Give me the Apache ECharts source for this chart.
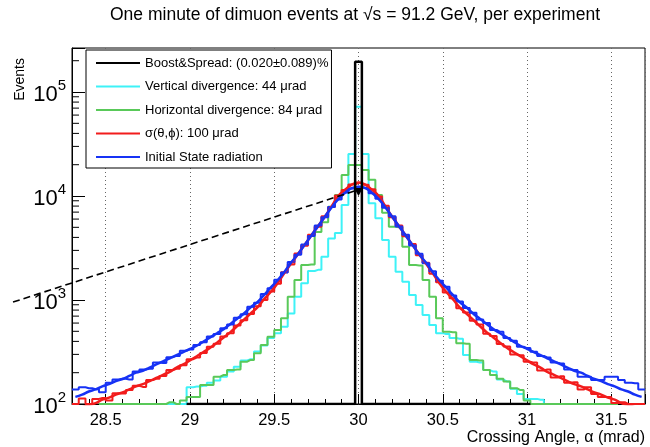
<!DOCTYPE html>
<html><head><meta charset="utf-8">
<script src="https://cdn.jsdelivr.net/npm/echarts@6/dist/echarts.min.js"></script>
<style>html,body{margin:0;padding:0;background:#fff}#c{width:650px;height:447px}</style>
</head><body><div id="c"></div>
<script>
const FONT = '"Liberation Sans", Arial, Helvetica, sans-serif';

// ---- axis / binning ----
const X_MIN = 28.3, X_MAX = 31.7;
const Y_MIN = 100, Y_MAX = 265000;
const binLow = 28.30, binWidth = 0.04;          // 85 bins, centred on 30.00
const xTickLabels = ['28.5', '29', '29.5', '30', '30.5', '31', '31.5'];
const yTickLabels = ['10^2', '10^3', '10^4', '10^5'];
const yMinorTicks = [200,300,400,500,600,700,800,900,
                     2000,3000,4000,5000,6000,7000,8000,9000,
                     20000,30000,40000,50000,60000,70000,80000,90000,200000];

// ---- legend names ----
const nameBoost = 'Boost&Spread: (0.020\u00b10.089)%';
const nameVert  = 'Vertical divergence: 44 \u03bcrad';
const nameHoriz = 'Horizontal divergence: 84 \u03bcrad';
const nameSigma = '\u03c3(\u03b8,\u03d5): 100 \u03bcrad';
const nameISR   = 'Initial State radiation';

// ---- histogram contents (events per bin), bins k = 0..84 ----
const boostCounts = [null,null,null,null,null,null,null,null,null,null,null,null,null,null,null,null,null,
  100,100,100,100,100,100,100,100,100,100,100,100,100,100,100,100,100,100,100,100,100,100,100,100,100,
  195000,
  100,100,100,100,100,100,100,100,100,100,100,100,100,100,100,100,100,100,100,100,100,100,100,100,100,
  null,null,null,null,null,null,null,null,null,null,null,null,null,null,null,null,null];

const vertCounts = [null,null,null,null,null,null,null,null,null,null,
  100,100,100,100,100,100,100,
  145,147,150,160,168,183,205,228,262,270,320,365,430,
  480,553,740,1077,1450,1900,1950,2600,3900,4400,8200,25300,
  72000,
  25300,8500,6100,3780,2600,1870,1500,1117,895,718,575,480,
  470,431,425,296,255,250,212,205,172,165,140,125,112,112,110,
  100,100,100,100,100,
  null,null,null,null,null,null,null,null,null,null];

const horizCounts = [null,null,null,null,
  100,100,100,100,100,100,100,100,100,100,
  104,100,108,
  117,117,152,152,183,190,212,215,255,265,307,369,444,
  515,667,1077,1555,2170,2200,4500,5600,7890,10200,15900,19900,
  19900,
  17800,14300,10200,6900,5070,5000,3250,2170,2150,1555,1077,667,
  495,490,383,380,265,262,212,190,175,165,142,136,108,
  100,100,100,100,100,100,100,100,100,100,100,100,100,
  null,null,null,null];

const sigmaCounts = [100,113,100,112,114,108,127,126,136,150,
  146,170,175,186,212,218,236,270,280,310,
  355,380,445,480,570,640,735,870,1000,1210,
  1430,1850,2200,2800,3330,4250,5050,6400,7850,10100,
  11400,12900,13400,12800,11600,9900,8050,6250,5200,4100,
  3450,2700,2280,1790,1480,1180,1040,835,760,630,
  580,475,450,378,358,300,295,255,250,210,
  215,180,185,160,162,138,145,125,117,117,
  102,104,100,100,100];

const isrCounts = [138,145,142,139,130,160,172,175,172,205,
  215,218,250,248,282,290,325,335,370,392,
  445,470,535,580,675,730,860,940,1140,1300,
  1570,1840,2320,2720,3420,4120,5200,6250,7850,9250,
  10800,11800,12300,11950,10650,9400,7700,6380,5080,4230,
  3350,2790,2260,1890,1530,1340,1105,970,840,755,
  650,600,515,495,430,405,355,345,318,290,
  280,250,245,215,212,183,183,170,170,183,
  183,170,160,158,138];

// ---- fitted curves, read at bin centres ----
const sigmaFit = [89,93,98,102,110,115,123,129,138,148,
  155,166,178,191,204,224,240,263,288,316,
  347,389,437,490,562,646,741,851,1020,1200,
  1450,1820,2240,2750,3390,4170,5130,6310,7940,10000,
  11480,12880,13490,12880,11480,10000,7940,6310,5130,4170,
  3390,2750,2240,1820,1450,1200,1020,851,741,646,
  562,490,437,389,347,316,288,263,240,224,
  204,191,178,166,155,148,138,129,123,115,
  110,102,98,93,89];

const isrFit = [117,123,132,138,148,155,166,174,186,200,
  209,224,240,257,275,295,316,339,363,398,
  437,479,525,589,661,741,851,955,1120,1320,
  1550,1860,2290,2750,3390,4170,5130,6310,7760,9330,
  10720,11890,12300,11890,10720,9330,7760,6310,5130,4170,
  3390,2750,2290,1860,1550,1320,1120,955,851,741,
  661,589,525,479,437,398,363,339,316,295,
  275,257,240,224,209,200,186,174,166,155,
  148,138,132,123,117];

// ---- annotation arrow (data coordinates) ----
const arrowTail = [27.95, 955];
const arrowTip  = [30.0, 10000];

function binCenter(k) { return +(binLow + binWidth * (k + 0.5)).toFixed(4); }
function histData(vals) {
  const pts = [];
  vals.forEach((v, k) => { if (v != null) pts.push([binCenter(k), v]); });
  if (pts.length) {
    pts.unshift([+(pts[0][0] - binWidth / 2).toFixed(4), pts[0][1]]);
    const last = pts[pts.length - 1];
    pts.push([+(last[0] + binWidth / 2).toFixed(4), last[1]]);
  }
  return pts;
}
function curveData(vals) { return vals.map((v, k) => [binCenter(k), v]); }

const C_BLACK = '#000000', C_CYAN = '#3ef2f7', C_GREEN = '#59c959', C_RED = '#f21c1c', C_BLUE = '#1632f5';

function histSeries(name, vals, color, width) {
  return { name, type: 'line', step: 'middle', data: histData(vals), symbol: 'none', color,
           lineStyle: { color, width }, clip: true, silent: true };
}

const chart = echarts.init(document.getElementById('c'), null, { renderer: 'canvas' });
const option = {
  animation: false,
  backgroundColor: '#fff',
  title: {
    text: 'One minute of dimuon events at \u221as = 91.2 GeV, per experiment',
    left: 355, top: 6, padding: 0, textAlign: 'center',
    textStyle: { fontSize: 17.5, fontWeight: 'normal', fontFamily: FONT, color: '#000' }
  },
  legend: {
    orient: 'vertical', left: 86, top: 50, padding: [5, 3, 3, 10],
    itemGap: 7.5, itemWidth: 44, itemHeight: 2, icon: 'rect',
    backgroundColor: '#fff', borderColor: '#000', borderWidth: 1, borderRadius: 0,
    textStyle: { fontSize: 13, fontFamily: FONT, color: '#000', lineHeight: 16 },
    data: [nameBoost, nameVert, nameHoriz, nameSigma, nameISR],
    selectedMode: false
  },
  grid: { left: 72, right: 5, top: 48, bottom: 43, show: true, borderColor: '#000', borderWidth: 1, backgroundColor: 'transparent' },
  xAxis: {
    type: 'value', min: X_MIN, max: X_MAX, splitNumber: 7,
    axisLine: { show: true, onZero: false, lineStyle: { color: '#000', width: 1 } },
    axisTick: { show: true, inside: true, length: 10, lineStyle: { color: '#000' } },
    minorTick: { show: true, splitNumber: 5, length: 5, lineStyle: { color: '#000' } },
    splitLine: { show: true, lineStyle: { color: '#666', type: [1, 3], width: 1 } },
    minorSplitLine: { show: false },
    axisLabel: {
      fontSize: 16.5, fontFamily: FONT, color: '#000', margin: 8,
      formatter: v => { const s = String(Math.round(v * 10) / 10); return xTickLabels.includes(s) ? s : ''; }
    },
    name: 'Crossing Angle, \u03b1 (mrad)', nameLocation: 'end', nameGap: 0,
    nameTextStyle: { fontSize: 16, fontFamily: FONT, color: '#000', align: 'right', verticalAlign: 'top', padding: [26, 0, 0, 0] }
  },
  yAxis: {
    type: 'log', logBase: 10, min: Y_MIN, max: Y_MAX,
    axisLine: { show: true, onZero: false, lineStyle: { color: '#000', width: 1 } },
    axisTick: { show: true, inside: true, length: 13, lineStyle: { color: '#000' } },
    splitLine: { show: false }, minorTick: { show: false },
    axisLabel: {
      margin: 6,
      formatter: v => {
        const e = Math.log10(v), r = Math.round(e);
        if (Math.abs(e - r) > 1e-6 || !yTickLabels.includes('10^' + r)) return '';
        return '{b|10}{s|' + r + '}';
      },
      rich: {
        b: { fontSize: 22, fontFamily: FONT, color: '#000', lineHeight: 27, verticalAlign: 'bottom' },
        s: { fontSize: 15, fontFamily: FONT, color: '#000', lineHeight: 27, verticalAlign: 'top' }
      }
    }
  },
  series: [
    histSeries(nameVert, vertCounts, C_CYAN, 2),
    histSeries(nameHoriz, horizCounts, C_GREEN, 2),
    histSeries(nameSigma, sigmaCounts, C_RED, 2),
    histSeries(nameISR, isrCounts, C_BLUE, 2),
    { name: 'sigmaFit', type: 'line', data: curveData(sigmaFit), smooth: true, symbol: 'none', color: C_RED,
      lineStyle: { color: C_RED, width: 2.5 }, clip: true, silent: true },
    { name: 'isrFit', type: 'line', data: curveData(isrFit), smooth: true, symbol: 'none', color: C_BLUE,
      lineStyle: { color: C_BLUE, width: 2.5 }, clip: true, silent: true },
    histSeries(nameBoost, boostCounts, C_BLACK, 2.5),
    { name: 'yMinor', type: 'custom', coordinateSystem: 'cartesian2d', silent: true, clip: false, z: 10,
      encode: { x: 0, y: 1 },
      data: yMinorTicks.map(v => [X_MIN, v]),
      renderItem: (params, api) => {
        const p = api.coord([api.value(0), api.value(1)]);
        return { type: 'line', shape: { x1: p[0], y1: p[1], x2: p[0] + 7, y2: p[1] },
                 style: { stroke: '#000', lineWidth: 1 } };
      } }
  ]
};
chart.setOption(option);

const tail = chart.convertToPixel({ gridIndex: 0 }, arrowTail);
const tip = chart.convertToPixel({ gridIndex: 0 }, arrowTip);
chart.setOption({
  graphic: [
    { type: 'line', silent: true, z: 100,
      shape: { x1: tail[0], y1: tail[1], x2: tip[0] - 4, y2: tip[1] - 5 },
      style: { stroke: '#000', lineWidth: 1.6, lineDash: [7, 4] } },
    { type: 'polygon', silent: true, z: 100,
      shape: { points: [[tip[0] - 4.5, tip[1] - 8], [tip[0] + 4.5, tip[1] - 8], [tip[0], tip[1]]] },
      style: { fill: '#000' } },
    { type: 'text', silent: true, x: 20, y: 58, rotation: Math.PI / 2,
      style: { text: 'Events', fontSize: 14, fontFamily: FONT, fill: '#000', align: 'right', verticalAlign: 'middle' } }
  ]
});
</script>
</body></html>
